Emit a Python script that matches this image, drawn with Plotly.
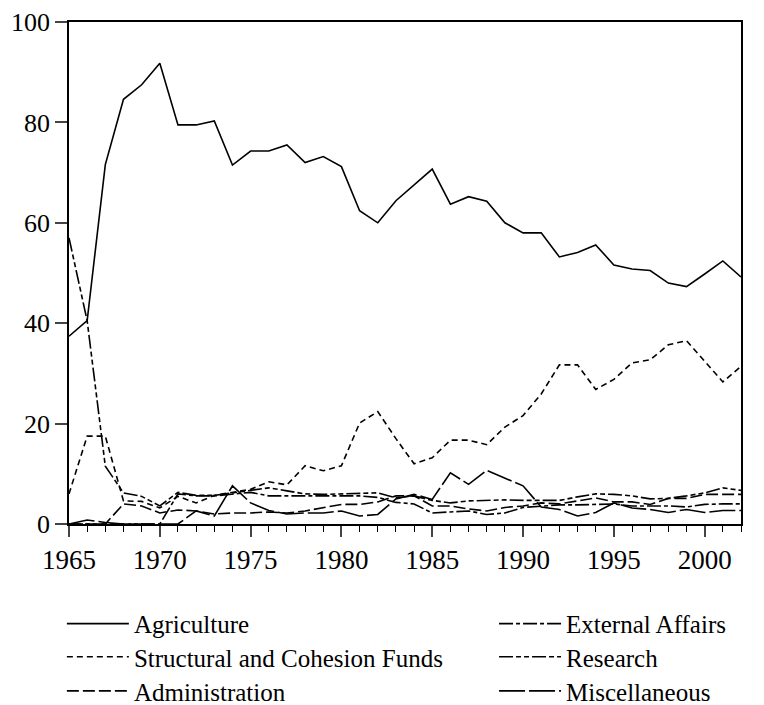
import plotly.graph_objects as go

years = list(range(1965, 2003))

agriculture = [37.4, 40.5, 71.6, 84.6, 87.5, 91.8, 79.5, 79.5, 80.3, 71.5,
               74.3, 74.3, 75.5, 72.0, 73.2, 71.2, 62.4, 60.0, 64.4, 67.6,
               70.7, 63.7, 65.2, 64.3, 60.0, 58.0, 58.0, 53.2, 54.1, 55.6,
               51.6, 50.8, 50.5, 48.0, 47.3, 49.8, 52.4, 49.2]

external_affairs = [0, 0, 0, 0, 0, 0, 6.0, 5.6, 5.6, 6.0,
                    6.3, 5.6, 5.6, 5.6, 5.6, 5.6, 5.6, 5.3, 4.3, 4.0,
                    2.2, 2.4, 2.6, 1.9, 2.2, 3.3, 3.6, 3.8, 3.8, 3.9,
                    4.0, 3.6, 3.6, 3.6, 3.4, 3.9, 4.0, 4.0]

structural = [6.0, 17.5, 17.5, 4.6, 4.5, 3.2, 5.5, 4.2, 5.7, 6.3,
              6.9, 8.4, 7.8, 11.6, 10.6, 11.6, 20.1, 22.4, 17.0, 12.0,
              13.2, 16.7, 16.7, 15.8, 19.3, 21.6, 25.9, 31.7, 31.7, 26.8,
              28.8, 32.1, 32.7, 35.7, 36.5, 32.4, 28.3, 31.4]

research = [57.0, 40.5, 11.5, 6.2, 5.5, 3.6, 6.3, 5.7, 5.7, 6.2,
            6.6, 7.2, 6.6, 6.0, 5.9, 6.0, 6.2, 6.2, 5.2, 5.6,
            4.7, 4.2, 4.6, 4.7, 4.8, 4.7, 4.7, 4.7, 5.4, 6.0,
            5.9, 5.6, 5.0, 5.1, 5.6, 6.2, 7.2, 6.7]

administration = [0, 0, 0, 4.0, 3.6, 2.2, 2.8, 2.6, 2.0, 2.2,
                  2.2, 2.4, 2.2, 2.6, 3.2, 3.9, 3.9, 4.4, 5.6, 5.6,
                  3.6, 3.6, 3.0, 2.6, 3.3, 3.6, 4.2, 4.0, 4.6, 5.2,
                  4.4, 4.4, 3.9, 5.1, 5.1, 5.9, 5.9, 5.9]

miscellaneous = [0, 0.8, 0.3, 0, 0, 0, 0, 2.6, 1.6, 7.6,
                 4.2, 2.7, 2.0, 2.2, 2.2, 2.6, 1.6, 1.9, 5.0, 5.9,
                 4.9, 10.2, 7.9, 10.7, 9.2, 7.6, 3.4, 2.9, 1.6, 2.3,
                 4.2, 3.2, 2.9, 2.3, 2.9, 2.3, 2.7, 2.7]

y_ticks = [0, 20, 40, 60, 80, 100]
x_ticks = [1965, 1970, 1975, 1980, 1985, 1990, 1995, 2000]

# name, values, dash, legend id, legend column x (paper), legend row y (paper)
series = [
    ("Agriculture", agriculture, "solid", "legend", -0.0106, -0.199),
    ("External Affairs", external_affairs, "14px,3px,4px,3px", "legend2", 0.6325, -0.199),
    ("Structural and Cohesion Funds", structural, "6px,4px", "legend3", -0.0106, -0.265),
    ("Research", research, "14px,3px,5px,3px,5px,3px", "legend4", 0.6325, -0.265),
    ("Administration", administration, "12px,4px", "legend5", -0.0106, -0.333),
    ("Miscellaneous", miscellaneous, "26px,4px", "legend6", 0.6325, -0.333),
]

font = "Liberation Serif"
fig = go.Figure()
legends = {}
for name, vals, dash, lg, lx, ly in series:
    fig.add_trace(go.Scatter(x=years, y=vals, mode="lines", name=name, legend=lg,
                             line=dict(color="black", width=1.6, dash=dash)))
    legends[lg] = dict(x=lx, y=ly, xanchor="left", yanchor="middle",
                       orientation="v", itemwidth=62, bgcolor="rgba(0,0,0,0)",
                       font=dict(family=font, size=25, color="black"))

fig.update_layout(
    width=756, height=697,
    margin=dict(l=61, r=23, t=14, b=181, autoexpand=False),
    plot_bgcolor="white", paper_bgcolor="white",
    font=dict(family=font, color="black", size=26),
    showlegend=True,
    **legends,
)
fig.update_xaxes(range=[1965, 2002], tickvals=x_ticks, ticks="outside", ticklen=11,
                 tickwidth=1.5, showline=True, linecolor="black", linewidth=1.5,
                 mirror=True, showgrid=False, zeroline=False, ticklabeloverflow="allow",
                 tickfont=dict(family=font, size=27, color="black"),
                 minor=dict(dtick=1, tick0=1965, ticks="outside", ticklen=6,
                            tickwidth=1.2, tickcolor="black", showgrid=False))
fig.update_yaxes(range=[0, 100], tickvals=y_ticks, ticks="outside", ticklen=12,
                 tickwidth=1.5, showline=True, linecolor="black", linewidth=1.5,
                 mirror=True, showgrid=False, zeroline=False, ticklabeloverflow="allow",
                 tickfont=dict(family=font, size=26, color="black"))

fig.write_html("out.html")
